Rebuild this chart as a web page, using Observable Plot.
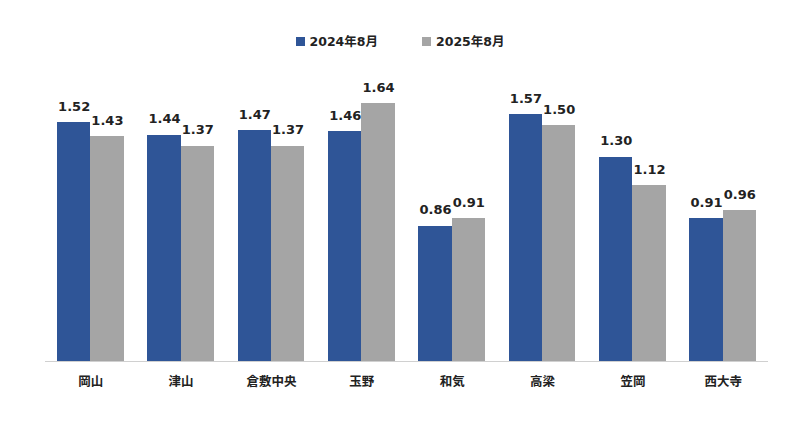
<!DOCTYPE html>
<html><head><meta charset="utf-8">
<script src="https://cdn.jsdelivr.net/npm/d3@7"></script>
<script src="https://cdn.jsdelivr.net/npm/@observablehq/plot@0.6"></script>
<style>
body{margin:0;background:#fff;font-family:"DejaVu Sans","Noto Sans CJK JP",sans-serif;}
#legend{height:60px;display:flex;justify-content:center;align-items:flex-end;gap:0;font-size:12.5px;font-weight:bold;color:#222;box-sizing:border-box;padding-bottom:10px;}
.item{display:flex;align-items:center;margin:0 22px;}
.sw{width:9px;height:9px;margin-right:5px;margin-top:2px;}
</style></head><body>
<div id="legend"></div>
<div id="chart"></div>
<script>
const categories = ["岡山","津山","倉敷中央","玉野","和気","高梁","笠岡","西大寺"];
const series = ["2024年8月","2025年8月"];
const values2024 = [1.52,1.44,1.47,1.46,0.86,1.57,1.30,0.91];
const values2025 = [1.43,1.37,1.37,1.64,0.91,1.50,1.12,0.96];
const colors = ["#2F5597","#A5A5A5"];

const data = [];
categories.forEach((c,i)=>{
  data.push({cat:c, s:series[0], v:values2024[i]});
  data.push({cat:c, s:series[1], v:values2025[i]});
});

const leg = document.getElementById("legend");
series.forEach((s,i)=>{
  const it = document.createElement("div"); it.className="item";
  it.innerHTML = `<span class="sw" style="background:${colors[i]}"></span><span>${s}</span>`;
  leg.appendChild(it);
});

const plot = Plot.plot({
  width: 800, height: 383,
  marginLeft: 45, marginRight: 32, marginTop: 18, marginBottom: 82,
  style: {fontFamily: '"DejaVu Sans","Noto Sans CJK JP",sans-serif', background: "#fff"},
  fx: {domain: categories, paddingInner: 0.264, paddingOuter: 0.133, round: false, label: null},
  x: {domain: series, axis: null, padding: 0, round: false},
  y: {domain: [0, 1.8], axis: null},
  color: {domain: series, range: colors},
  marks: [
    Plot.barY(data, {fx: "cat", x: "s", y: "v", fill: "s", shapeRendering: "crispEdges"}),
    Plot.text(data, {fx: "cat", x: "s", y: "v", text: d => d.v.toFixed(2), dy: -16, fontSize: 13, fontWeight: "bold", fill: "#222"}),
    Plot.axisFx({anchor: "bottom", tickSize: 0, tickPadding: 16, fontSize: 12.5, fontWeight: "bold", fill: "#222", label: null})
  ]
});
document.getElementById("chart").appendChild(plot);

const y = plot.scale("y");
d3.select(plot).append("line")
  .attr("x1", 45).attr("x2", 800 - 32)
  .attr("y1", y.apply(0) + 0.5).attr("y2", y.apply(0) + 0.5)
  .attr("stroke", "#d0d0d0").attr("stroke-width", 1);
</script>
</body></html>
